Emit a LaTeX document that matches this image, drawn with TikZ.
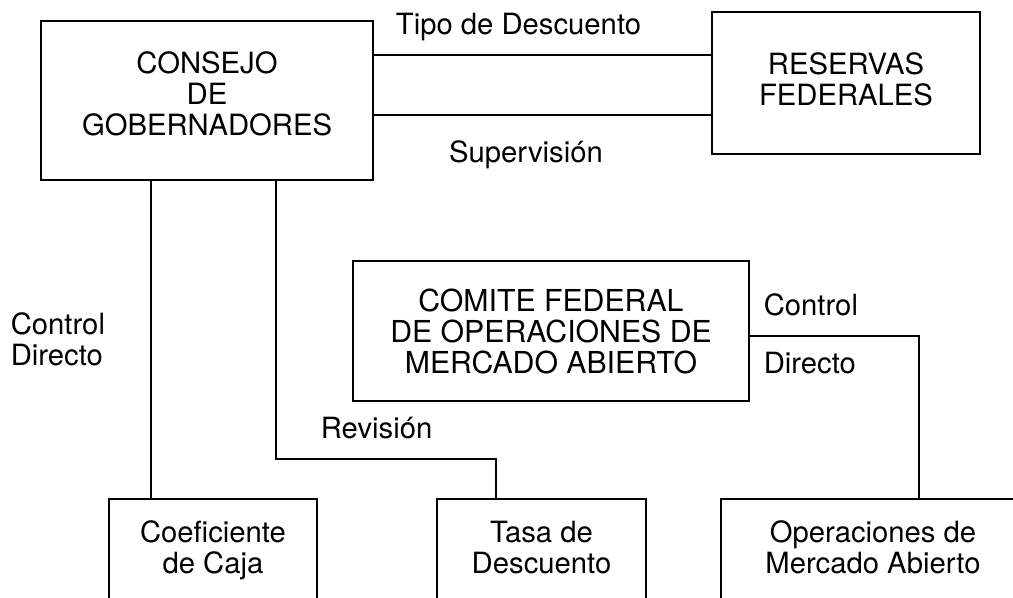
\documentclass[tikz,border=0pt]{standalone}
\usepackage{fontspec}
\setmainfont{TeX Gyre Heros}
\usetikzlibrary{positioning}

\begin{document}
\begin{tikzpicture}[x=0.025cm,y=-0.025cm, line width=1.2pt,
    font=\fontsize{20.8}{22}\selectfont]
    \tikzset{box/.style = {draw, rectangle, inner sep=0pt, align=center}}
    \tikzset{lbl/.style = {inner sep=0pt, align=left}}

    \useasboundingbox (0,0) rectangle (1013,598);

    % boxes
    \node[box, minimum width=8.3cm, text height=2.8625cm, text depth=1.1125cm] (consejo) at (207,100.5) {CONSEJO\\DE\\GOBERNADORES};
    \node[box, minimum width=6.7cm, text height=2.3375cm, text depth=1.2125cm] (reservas) at (846,83) {RESERVAS\\FEDERALES};
    \node[box, minimum width=9.9cm, text height=2.8cm, text depth=0.7cm,
          font=\fontsize{21.5}{22}\selectfont] (comite) at (551,331) {COMITE FEDERAL\\DE OPERACIONES DE\\MERCADO ABIERTO};
    \node[box, minimum width=5.2cm, text height=1.85cm, text depth=0.725cm] (coef) at (213,550.5) {Coeficiente\\de Caja};
    \node[box, minimum width=5.225cm, text height=1.85cm, text depth=0.725cm] (tasa) at (541.5,550.5) {Tasa de\\Descuento};
    \node[box, minimum width=7.6cm, text height=1.85cm, text depth=0.725cm] (ops) at (873,550.5) {Operaciones de\\Mercado Abierto};

    % connectors
    \draw (consejo.east |- 0,55) -- (reservas.west |- 0,55);
    \draw (consejo.east |- 0,115) -- (reservas.west |- 0,115);
    \draw (consejo.south -| 151,0) -- (coef.north -| 151,0);
    \draw (consejo.south -| 276,0) |- (496,459) -- (tasa.north -| 496,0);
    \draw (comite.east |- 0,336) -| (ops.north -| 919,0);

    % labels
    \node[lbl] (tipo) at (518.5,27) {Tipo de Descuento};
    \node[lbl] (superv) at (526,155) {Supervisión};
    \node[lbl, anchor=west] (ctrlizq) at (10,339.5) {Control\\Directo};
    \node[lbl, anchor=west] (revision) at (320,428) {Revisión};
    \node[lbl, anchor=west] (ctrlder) at (763,305) {Control};
    \node[lbl, anchor=west] (dirder) at (763,363) {Directo};

\end{tikzpicture}
\end{document}
